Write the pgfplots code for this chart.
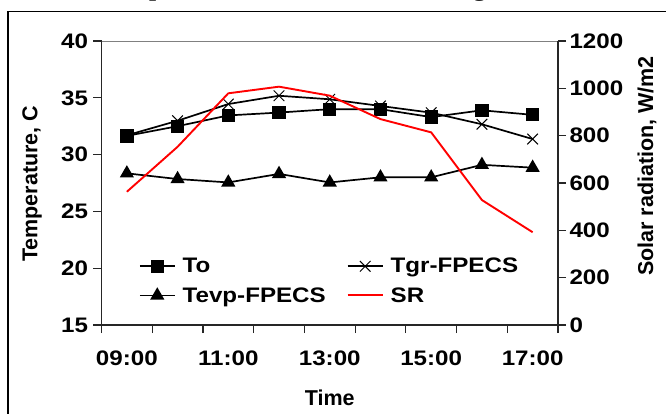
\documentclass[border=0pt]{standalone}
\usepackage{fontspec}
\setmainfont{Liberation Sans}[FakeStretch=1.15]
\newfontfamily\rotfont{Liberation Sans}
\newfontfamily\titlefont{Liberation Serif}[FakeStretch=1.15]
\usepackage{pgfplots}
\pgfplotsset{compat=1.18}

\pgfplotstableread{
x To Tgr Tevp SR
1 31.65 31.7 28.35 563
2 32.5 32.98 27.85 753
3 33.45 34.45 27.55 979
4 33.7 35.18 28.3 1007
5 34.0 34.87 27.55 969
6 34.0 34.28 28.0 870
7 33.3 33.69 28.0 814
8 33.9 32.67 29.1 528
9 33.5 31.37 28.85 392
}\datatable

\begin{document}
\begin{tikzpicture}
\path[use as bounding box] (0,0) rectangle (666pt,413pt);
\draw[line width=1.5pt] (8pt,-20pt) -- (8pt,401.5pt) -- (700pt,401.5pt);
\node[font=\titlefont\bfseries\fontsize{22}{26}\selectfont, anchor=base west, inner sep=0pt] at (102pt,416.5pt) {Temperatures of the FPECS during test};

\pgfplotsset{
  every axis/.append style={
    at={(101.5pt,88pt)}, anchor=south west,
    scale only axis, width=456.5pt, height=284pt,
    xmin=0.5, xmax=9.5,
    tick align=outside,
    major tick length=8pt, minor tick length=8pt,
    tick style={line width=1.2pt, black!85},
    axis line style={line width=1.5pt, black!85},
    ticklabel style={font=\bfseries\fontsize{21}{25}\selectfont},
    /pgf/number format/assume math mode=true,
    /pgf/number format/1000 sep={},
    label style={font=\rotfont\bfseries\fontsize{21.5}{25}\selectfont},
  }
}

\begin{axis}[
  ymin=15, ymax=40, ytick={15,20,...,40},
  xtick={1,...,9},
  xticklabels={09:00,,11:00,,13:00,,15:00,,17:00},
  minor xtick={0.5,1.5,...,9.5},
  major x tick style={draw=none},
  axis x line*=bottom, axis y line*=left,
  xticklabel style={yshift=-14pt},
  yticklabel style={xshift=-2pt},
  xlabel={Time},
  xlabel style={at={(axis description cs:0.5,-0.257)}, anchor=center},
  ylabel={Temperature, C},
  ylabel style={at={(axis description cs:-0.152,0.497)}, anchor=center},
  legend columns=2,
  legend style={draw=none, fill=none, at={(axis description cs:0.075,0.25)}, anchor=north west,
    font=\bfseries\fontsize{21}{25}\selectfont,
    /tikz/every odd column/.append style={column sep=5pt},
    /tikz/every even column/.append style={column sep=19pt},
    row sep=9pt},
  legend cell align=left,
  legend image code/.code={\draw[mark repeat=2,mark phase=2,#1] plot coordinates {(0pt,0pt)(17.5pt,0pt)(35pt,0pt)};},
]
\draw[gray, line width=1pt] (rel axis cs:0,1) -- (rel axis cs:1,1);
\addplot[black, line width=1.7pt, mark=square*, mark size=5.8pt] table[x=x, y=To] {\datatable};
\addlegendentry{To}
\addplot[black, line width=1.7pt, mark=x, mark size=7.5pt, mark options={line width=1pt}] table[x=x, y=Tgr] {\datatable};
\addlegendentry{Tgr-FPECS}
\addplot[black, line width=1.7pt, mark=triangle*, mark size=6.5pt] table[x=x, y=Tevp] {\datatable};
\addlegendentry{Tevp-FPECS}
\addlegendimage{red, line width=1.9pt}
\addlegendentry{SR}
\end{axis}

\begin{axis}[
  ymin=0, ymax=1200, ytick={0,200,...,1200},
  axis y line*=right, axis x line=none,
  ylabel={Solar radiation, W/m2},
  ylabel style={at={(axis description cs:1.195,0.56)}, anchor=center},
  yticklabel style={xshift=0pt},
]
\addplot[red, line width=1.9pt] table[x=x, y=SR] {\datatable};
\end{axis}
\end{tikzpicture}
\end{document}
